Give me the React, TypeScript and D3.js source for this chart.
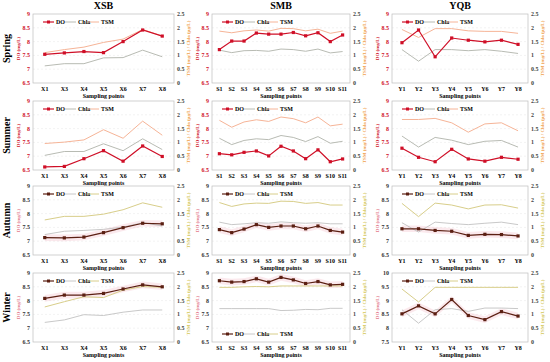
import { useEffect, useRef } from 'react';
import * as d3 from 'd3';

const W = 550;
const H = 362;

const seasons = ['Spring', 'Summer', 'Autumn', 'Winter'];
const basins = ['XSB', 'SMB', 'YQB'];

const xsbSites = ['X1', 'X3', 'X4', 'X5', 'X6', 'X7', 'X8'];
const smbSites = ['S1', 'S2', 'S3', 'S4', 'S5', 'S6', 'S7', 'S8', 'S9', 'S10', 'S11'];
const yqbSites = ['Y1', 'Y2', 'Y3', 'Y4', 'Y5', 'Y6', 'Y7', 'Y8'];

// rows: spring, summer, autumn, winter
const xsbDO = [
  [7.54, 7.59, 7.64, 7.6, 8.0, 8.42, 8.2],
  [6.61, 6.63, 6.91, 7.2, 6.82, 7.37, 6.99],
  [7.13, 7.12, 7.15, 7.31, 7.49, 7.65, 7.63],
  [8.08, 8.2, 8.2, 8.26, 8.42, 8.57, 8.5],
];
const xsbChla = [
  [0.62, 0.7, 0.7, 0.91, 0.92, 1.19, 0.95],
  [0.53, 0.67, 0.67, 0.95, 0.7, 1.13, 0.74],
  [0.74, 0.86, 0.89, 0.93, 1.01, 1.17, 1.05],
  [0.71, 0.8, 0.99, 0.96, 1.08, 1.16, 1.16],
];
const xsbTSM = [
  [1.1, 1.21, 1.3, 1.47, 1.59, 1.94, 1.7],
  [0.96, 1.01, 1.09, 1.46, 1.15, 1.77, 1.26],
  [1.27, 1.4, 1.4, 1.48, 1.64, 1.89, 1.73],
  [1.27, 1.46, 1.64, 1.61, 1.88, 2.01, 1.98],
];

const smbDO = [
  [7.71, 8.02, 8.02, 8.31, 8.27, 8.27, 8.33, 8.21, 8.32, 8.0, 8.24],
  [7.09, 7.05, 7.14, 7.19, 7.01, 7.36, 7.19, 6.91, 7.23, 6.8, 6.9],
  [7.42, 7.31, 7.44, 7.6, 7.5, 7.55, 7.55, 7.45, 7.55, 7.39, 7.33],
  [8.72, 8.67, 8.69, 8.79, 8.67, 8.84, 8.75, 8.62, 8.69, 8.57, 8.59],
];
const smbChla = [
  [1.19, 1.1, 1.17, 1.18, 1.15, 1.23, 1.21, 1.15, 1.23, 1.09, 1.14],
  [1.15, 0.92, 1.07, 1.13, 1.1, 1.25, 1.18, 1.03, 1.21, 0.97, 1.04],
  [1.19, 1.1, 1.13, 1.17, 1.15, 1.2, 1.17, 1.15, 1.17, 1.13, 1.13],
  [1.21, 1.21, 1.21, 1.21, 1.21, 1.14, 1.15, 1.18, 1.17, 1.22, 1.22],
];
const smbTSM = [
  [1.88, 1.82, 1.89, 1.92, 1.88, 1.98, 1.97, 1.89, 1.95, 1.8, 1.88],
  [1.8, 1.55, 1.74, 1.82, 1.76, 1.92, 1.86, 1.71, 1.92, 1.6, 1.66],
  [1.9, 1.76, 1.85, 1.88, 1.87, 1.95, 1.94, 1.87, 1.9, 1.81, 1.81],
  [1.98, 1.98, 2.0, 2.01, 2.0, 2.03, 2.03, 2.03, 2.03, 2.03, 2.03],
];

const yqbDO = [
  [7.96, 8.42, 7.45, 8.13, 8.05, 7.99, 8.05, 7.9],
  [7.29, 6.96, 6.8, 7.25, 6.9, 6.82, 6.96, 6.89],
  [7.45, 7.45, 7.39, 7.36, 7.21, 7.25, 7.24, 7.19],
  [8.52, 8.81, 8.52, 9.04, 8.46, 8.31, 8.6, 8.44],
];
const yqbChla = [
  [1.21, 0.79, 1.21, 1.21, 1.17, 1.21, 1.15, 1.07],
  [1.23, 0.83, 1.18, 1.08, 0.92, 1.04, 1.07, 0.83],
  [1.17, 0.83, 1.19, 1.14, 1.1, 1.15, 1.19, 1.1],
  [1.17, 0.68, 1.17, 1.21, 1.11, 1.23, 1.23, 1.21],
];
const yqbTSM = [
  [1.94, 1.65, 1.97, 1.97, 1.89, 1.87, 1.87, 1.8],
  [1.83, 1.83, 1.87, 1.71, 1.37, 1.67, 1.71, 1.42],
  [1.87, 1.39, 1.88, 1.81, 1.67, 1.81, 1.82, 1.7],
  [1.92, 1.45, 1.98, 1.98, 1.98, 1.98, 1.98, 1.98],
];

const doTicks = [6.5, 7, 7.5, 8, 8.5, 9];
const doTicksHigh = [7.5, 8, 8.5, 9, 9.5, 10];
const rightTicks = [0, 0.5, 1, 1.5, 2, 2.5];

const sites = [xsbSites, smbSites, yqbSites];
const doData = [xsbDO, smbDO, yqbDO];
const chlaData = [xsbChla, smbChla, yqbChla];
const tsmData = [xsbTSM, smbTSM, yqbTSM];

// panel frames
const colLeft = [33, 212, 392];
const colRight = [174, 350, 528];
const rowTop = [14, 101, 186, 273];
const plotH = 69;

const warm = { do: '#cf0f27', chla: '#b0b3aa', tsm: '#f6b497', left: '#cf0f27', leftTick: '#cf0f27', right: '#f0a24e' };
const cool = { do: '#5b1f12', chla: '#c2c2c2', tsm: '#d8ce8a', left: '#e3798a', leftTick: '#333', right: '#d4c75a' };

const FONT = '"Liberation Serif", "Times New Roman", serif';

const App = () => {
  const svgRef = useRef(null);

  useEffect(() => {
    const svg = d3.select(svgRef.current);
    svg.selectAll('*').remove();

    svg.append('rect').attr('width', W).attr('height', H).attr('fill', '#fff');

    basins.forEach((b, c) => {
      svg.append('text')
        .attr('x', (colLeft[c] + colRight[c]) / 2)
        .attr('y', 9)
        .attr('text-anchor', 'middle')
        .style('font', `bold 10px ${FONT}`)
        .text(b);
    });

    seasons.forEach((s, r) => {
      const top = rowTop[r];
      const bottom = top + plotH;
      const pal = r < 2 ? warm : cool;

      svg.append('text')
        .attr('transform', `translate(10,${(top + bottom) / 2}) rotate(-90)`)
        .attr('text-anchor', 'middle')
        .style('font', `bold 10px ${FONT}`)
        .text(s);

      basins.forEach((b, c) => {
        const left = colLeft[c];
        const right = colRight[c];
        const high = c === 2 && r === 3;
        const yTicks = high ? doTicksHigh : doTicks;

        const x = d3.scalePoint().domain(sites[c]).range([left, right]).padding(0.6);
        const yL = d3.scaleLinear().domain([yTicks[0], yTicks[yTicks.length - 1]]).range([bottom, top]);
        const yR = d3.scaleLinear().domain([0, 2.5]).range([bottom, top]);

        const g = svg.append('g');

        // grid
        g.selectAll('line.grid')
          .data(yTicks.slice(1, -1))
          .join('line')
          .attr('x1', left).attr('x2', right)
          .attr('y1', d => yL(d)).attr('y2', d => yL(d))
          .attr('stroke', '#e6e6e6')
          .attr('stroke-width', 0.5)
          .attr('stroke-dasharray', '2,2');

        g.append('rect')
          .attr('x', left).attr('y', top)
          .attr('width', right - left).attr('height', plotH)
          .attr('fill', 'none')
          .attr('stroke', '#bdbdbd')
          .attr('stroke-width', 0.7);

        const doVals = doData[c][r];
        const chla = chlaData[c][r];
        const tsm = tsmData[c][r];

        if (r >= 2) {
          const band = d3.area()
            .x((d, i) => x(sites[c][i]))
            .y0(d => yL(d - 0.12))
            .y1(d => yL(d + 0.12));
          g.append('path')
            .datum(doVals)
            .attr('d', band)
            .attr('fill', '#f5c9d2')
            .attr('opacity', 0.4);
        }

        const lineL = d3.line().x((d, i) => x(sites[c][i])).y(d => yL(d));
        const lineR = d3.line().x((d, i) => x(sites[c][i])).y(d => yR(d));

        g.append('path').datum(chla).attr('d', lineR)
          .attr('fill', 'none').attr('stroke', pal.chla).attr('stroke-width', 0.9);
        g.append('path').datum(tsm).attr('d', lineR)
          .attr('fill', 'none').attr('stroke', pal.tsm).attr('stroke-width', 1);
        g.append('path').datum(doVals).attr('d', lineL)
          .attr('fill', 'none').attr('stroke', pal.do).attr('stroke-width', 1.2);
        g.selectAll('rect.m')
          .data(doVals)
          .join('rect')
          .attr('x', (d, i) => x(sites[c][i]) - 1.6)
          .attr('y', d => yL(d) - 1.6)
          .attr('width', 3.2).attr('height', 3.2)
          .attr('fill', pal.do);

        // left ticks
        g.selectAll('text.yl')
          .data(yTicks)
          .join('text')
          .attr('x', left - 3)
          .attr('y', d => yL(d) + 2)
          .attr('text-anchor', 'end')
          .attr('fill', pal.leftTick)
          .style('font', `bold 6px ${FONT}`)
          .text(d => d);

        // right ticks
        g.selectAll('text.yr')
          .data(rightTicks)
          .join('text')
          .attr('x', right + 3)
          .attr('y', d => yR(d) + 2)
          .attr('fill', '#444')
          .style('font', `bold 6px ${FONT}`)
          .text(d => d);

        // x ticks
        g.selectAll('text.xt')
          .data(sites[c])
          .join('text')
          .attr('x', d => x(d))
          .attr('y', bottom + 8)
          .attr('text-anchor', 'middle')
          .style('font', `bold 6px ${FONT}`)
          .text(d => d);

        g.append('text')
          .attr('x', (left + right) / 2)
          .attr('y', bottom + 15)
          .attr('text-anchor', 'middle')
          .style('font', `bold 6px ${FONT}`)
          .text('Sampling points');

        // axis titles
        g.append('text')
          .attr('transform', `translate(${left - 13},${(top + bottom) / 2}) rotate(-90)`)
          .attr('text-anchor', 'middle')
          .attr('fill', pal.left)
          .style('font', `bold 5px ${FONT}`)
          .text('DO (mg/L)');

        g.append('text')
          .attr('transform', `translate(${right + 16},${(top + bottom) / 2}) rotate(-90)`)
          .attr('text-anchor', 'middle')
          .attr('fill', pal.right)
          .style('font', `bold 5px ${FONT}`)
          .text('TSM (mg/L) / Chla (μg/L)');

        // legend
        const ly = c === 1 && r === 3 ? bottom - 8 : top + 8;
        const items = [
          { name: 'DO', color: pal.do, x0: 10, marker: true, w: 1.2 },
          { name: 'Chla', color: pal.chla, x0: 32, marker: false, w: 0.9 },
          { name: 'TSM', color: pal.tsm, x0: 55, marker: false, w: 1 },
        ];
        items.forEach(it => {
          g.append('line')
            .attr('x1', left + it.x0).attr('x2', left + it.x0 + 11)
            .attr('y1', ly).attr('y2', ly)
            .attr('stroke', it.color).attr('stroke-width', it.w);
          if (it.marker) {
            g.append('rect')
              .attr('x', left + it.x0 + 5.5 - 1.5).attr('y', ly - 1.5)
              .attr('width', 3).attr('height', 3)
              .attr('fill', it.color);
          }
          g.append('text')
            .attr('x', left + it.x0 + 13)
            .attr('y', ly + 2)
            .style('font', `bold 6px ${FONT}`)
            .text(it.name);
        });
      });
    });
  }, []);

  return (
    <svg
      ref={svgRef}
      width={W}
      height={H}
      style={{ position: 'absolute', left: 0, top: 0 }}
    />
  );
};

export default App;
